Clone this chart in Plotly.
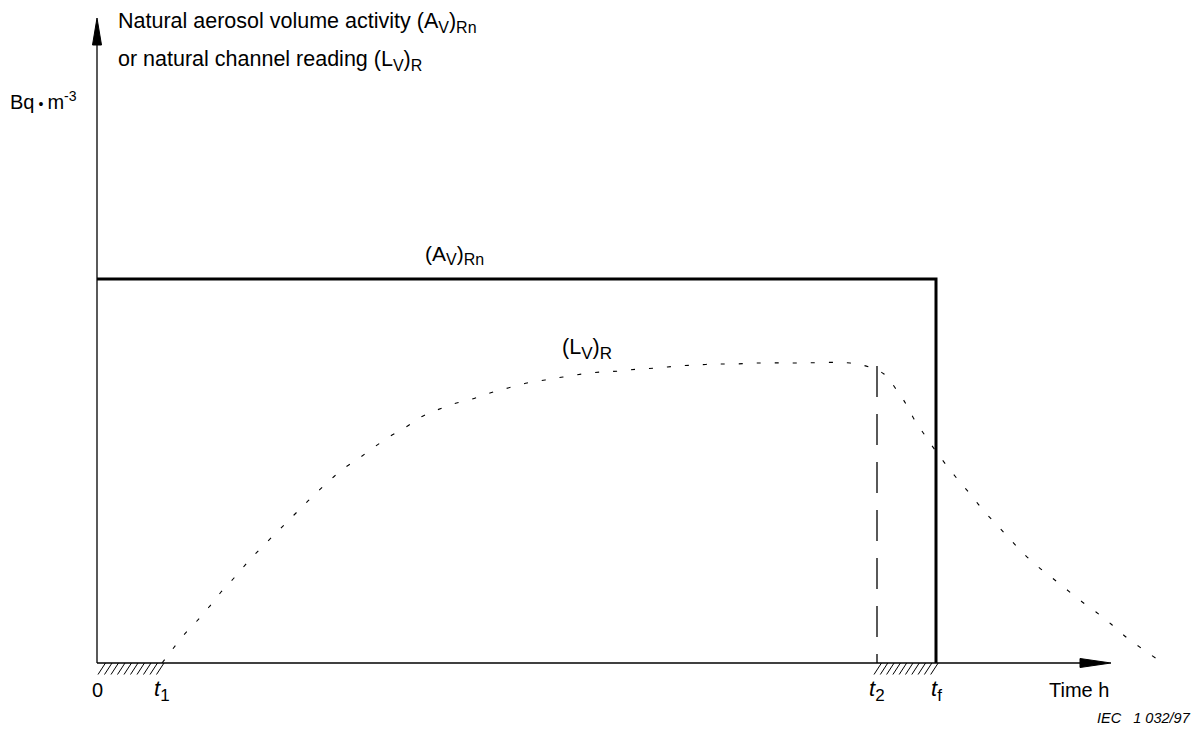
import plotly.graph_objects as go

# ---- data (arbitrary units) ----
t1 = 0.65
t2 = 7.80
tf = 8.39
av_level = 3.84

# natural aerosol volume activity (A_V)_Rn : constant until tf, then drops
av_x = [0.0, tf, tf]
av_y = [av_level, av_level, 0.0]

# natural channel reading (L_V)_R
lv_x = [0.65, 0.75, 0.86, 0.99, 1.12, 1.24, 1.37, 1.50, 1.63, 1.77, 1.90, 2.04, 2.17,
        2.31, 2.46, 2.61, 2.76, 2.92, 3.09, 3.24, 3.40, 3.56, 3.75, 3.93, 4.11, 4.30,
        4.48, 4.66, 4.85, 5.04, 5.23, 5.42, 5.61, 5.80, 5.99, 6.18, 6.37, 6.60, 7.00,
        7.53, 7.72, 7.87, 7.99, 8.09, 8.17, 8.27, 8.38, 8.50, 8.62, 8.74, 8.86, 8.99,
        9.12, 9.25, 9.39, 9.54, 9.69, 9.84, 9.99, 10.14, 10.29, 10.44, 10.60]
lv_y = [0.00, 0.13, 0.27, 0.41, 0.56, 0.71, 0.85, 1.00, 1.14, 1.28, 1.41, 1.55, 1.68,
        1.81, 1.94, 2.04, 2.15, 2.26, 2.36, 2.46, 2.53, 2.59, 2.64, 2.70, 2.75, 2.80,
        2.83, 2.86, 2.89, 2.91, 2.92, 2.94, 2.95, 2.97, 2.98, 2.99, 2.99, 3.00, 3.00,
        3.00, 2.96, 2.89, 2.74, 2.59, 2.44, 2.29, 2.13, 1.97, 1.82, 1.68, 1.53, 1.39,
        1.25, 1.11, 0.98, 0.86, 0.74, 0.62, 0.51, 0.39, 0.26, 0.15, 0.04]

t2_top = 2.97

fig = go.Figure()

fig.add_trace(go.Scatter(x=av_x, y=av_y, mode="lines",
                         line=dict(color="black", width=3), hoverinfo="skip"))
fig.add_trace(go.Scatter(x=lv_x, y=lv_y, mode="lines", line_shape="spline",
                         line=dict(color="black", width=1.1, dash="4px,14px"),
                         hoverinfo="skip"))
fig.add_trace(go.Scatter(x=[t2, t2], y=[t2_top, 0], mode="lines",
                         line=dict(color="black", width=1.3, dash="31px,17px"),
                         hoverinfo="skip"))

shapes = []
# axes
shapes.append(dict(type="line", x0=0, y0=0, x1=0, y1=6.2, line=dict(color="black", width=1.3)))
shapes.append(dict(type="line", x0=0, y0=0, x1=9.9, y1=0, line=dict(color="black", width=1.6)))
shapes.append(dict(type="path", path="M -0.045 6.18 L 0 6.45 L 0.045 6.18 Z",
                   fillcolor="black", line=dict(color="black", width=1)))
shapes.append(dict(type="path", path="M 9.83 0.045 L 10.14 0 L 9.83 -0.045 Z",
                   fillcolor="black", line=dict(color="black", width=1)))
# hatching below the axis
def hatch(xa, xb):
    n = 10
    step = (xb - xa) / n
    for k in range(n):
        x0 = xa + k * step
        shapes.append(dict(type="line", x0=x0 + 0.01, y0=-0.115, x1=x0 + 0.085, y1=0.0,
                           line=dict(color="black", width=1)))
hatch(0.0, t1)
hatch(t2 - 0.04, tf)

fig.update_layout(shapes=shapes)

F = "Liberation Sans, Arial, sans-serif"


def sub(s, px):
    return '<sub><span style="font-size:%dpx">%s</span></sub>' % (px, s)


ann = [
    dict(x=0.19, y=6.41, text="Natural aerosol volume activity (A" + sub("V", 16) + ")" + sub("Rn", 16),
         xanchor="left", yanchor="middle", font=dict(size=21.5)),
    dict(x=0.19, y=6.03, text="or natural channel reading (L" + sub("V", 16) + ")" + sub("R", 16),
         xanchor="left", yanchor="middle", font=dict(size=21.5)),
    dict(x=-0.89, y=5.63,
         text='Bq\u2009<span style="font-size:14px">\u2022</span>\u2009m<sup>-3</sup>',
         xanchor="left", yanchor="middle", font=dict(size=20)),
    dict(x=3.26, y=4.08, text="(A" + sub("V", 16) + ")" + sub("Rn", 16), xanchor="left",
         yanchor="middle", font=dict(size=21)),
    dict(x=4.63, y=3.14, text="(L" + sub("V", 17) + ")" + sub("R", 17), xanchor="left",
         yanchor="middle", font=dict(size=21.5)),
    dict(x=0.0, y=-0.27, text="0", xanchor="center", yanchor="middle", font=dict(size=20)),
    dict(x=t1, y=-0.27, text="<i>t</i>" + sub("1", 17), xanchor="center", yanchor="middle",
         font=dict(size=22)),
    dict(x=t2, y=-0.27, text="<i>t</i>" + sub("2", 17), xanchor="center", yanchor="middle",
         font=dict(size=22)),
    dict(x=tf, y=-0.27, text="<i>t</i>" + sub("f", 17), xanchor="center", yanchor="middle",
         font=dict(size=22)),
    dict(x=10.14, y=-0.27, text="Time h", xanchor="right", yanchor="middle", font=dict(size=20)),
    dict(x=10.96, y=-0.55, text="<i>IEC   1 032/97</i>", xanchor="right", yanchor="middle",
         font=dict(size=14.5)),
]
for a in ann:
    a.update(xref="x", yref="y", showarrow=False)
    a["font"].update(family=F, color="black")
fig.update_layout(annotations=ann)

fig.update_layout(
    width=1203, height=731,
    margin=dict(l=0, r=0, t=0, b=0),
    paper_bgcolor="white", plot_bgcolor="white",
    showlegend=False,
    xaxis=dict(range=[-0.97, 11.06], visible=False, fixedrange=True),
    yaxis=dict(range=[-0.68, 6.63], visible=False, fixedrange=True),
    font=dict(family=F, color="black"),
)

fig.write_html("out.html", config={"displayModeBar": False},
               post_script="document.body.style.margin='0px';")
